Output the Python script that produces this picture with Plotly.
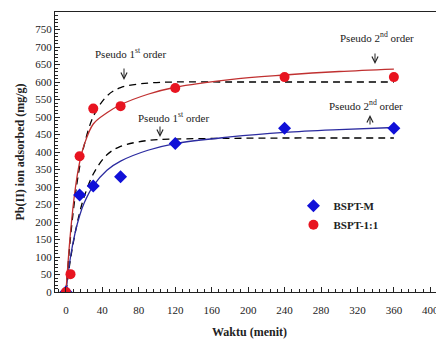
import plotly.graph_objects as go

# Experimental data
t_m = [0, 15, 30, 60, 120, 240, 360]
q_m = [0, 277, 303, 329, 424, 468, 468]
t_11 = [0, 5, 15, 30, 60, 120, 240, 360]
q_11 = [0, 51, 388, 524, 531, 583, 614, 614]

# Model curves
t_fit = [0, 5, 10, 15, 20, 30, 45, 60, 90, 120, 180, 240, 300, 360]
pfo_11 = [0, 156, 271, 357, 419, 501, 560, 584, 597, 600, 600, 600, 600, 600]
pso_11 = [0, 170, 290, 370, 420, 480, 512, 535, 565, 585, 607, 620, 630, 637]
pfo_m = [0, 94, 167, 226, 272, 337, 392, 416, 433, 437, 439, 440, 440, 440]
pso_m = [0, 100, 168, 218, 254, 303, 348, 374, 405, 424, 443, 456, 464, 470]

x_ticks = [0, 40, 80, 120, 160, 200, 240, 280, 320, 360, 400]
y_ticks = list(range(0, 801, 50))

SERIF = "Liberation Serif"
fig = go.Figure()

dash = "7px,5px"
fig.add_trace(go.Scatter(x=t_fit, y=pfo_m, mode="lines", line=dict(color="black", width=1.3, dash=dash, shape="spline"), showlegend=False))
fig.add_trace(go.Scatter(x=t_fit, y=pso_m, mode="lines", line=dict(color="#2B2BA0", width=1.3, shape="spline"), showlegend=False))
fig.add_trace(go.Scatter(x=t_fit, y=pfo_11, mode="lines", line=dict(color="black", width=1.3, dash=dash, shape="spline"), showlegend=False))
fig.add_trace(go.Scatter(x=t_fit, y=pso_11, mode="lines", line=dict(color="#C03030", width=1.3, shape="spline"), showlegend=False))

fig.add_trace(go.Scatter(x=t_m, y=q_m, mode="markers", name="BSPT-M",
                         marker=dict(symbol="diamond", size=10, color="#1010D8")))
fig.add_trace(go.Scatter(x=t_11, y=q_11, mode="markers", name="BSPT-1:1",
                         marker=dict(symbol="circle", size=10, color="#E81420")))

# page offset (body margin) compensation: figure drawn at (8, 8)
OFF = 8
L, R, T, B = 55, 444, 12, 292
afont = dict(family=SERIF, size=11, color="#222")
labels = [
    dict(x=130, y=53, text="Pseudo 1<sup>st</sup> order"),
    dict(x=377, y=37, text="Pseudo 2<sup>nd</sup> order"),
    dict(x=173, y=117, text="Pseudo 1<sup>st</sup> order"),
    dict(x=366, y=105, text="Pseudo 2<sup>nd</sup> order"),
]
for a in labels:
    fig.add_annotation(x=(a["x"] - L) / (R - L), y=(B - a["y"]) / (B - T), xref="paper", yref="paper",
                       text=a["text"], showarrow=False, font=afont, xanchor="center", yanchor="middle")
arrows = [  # tip x, tip y, tail offset
    (124, 80, -13),
    (375, 64, -12),
    (160, 137, -12),
    (370, 115, 11),
]
for x, y, ay in arrows:
    fig.add_annotation(x=(x - L) / (R - L), y=(B - y) / (B - T), xref="paper", yref="paper",
                       text="", showarrow=True, ax=0, ay=ay, arrowhead=5, arrowsize=1.2,
                       arrowwidth=1, arrowcolor="#222", standoff=0, startstandoff=0)

fig.update_layout(
    width=444 - OFF, height=345 - OFF,
    margin=dict(l=L - OFF, r=0, t=T - OFF, b=345 - B),
    paper_bgcolor="white", plot_bgcolor="white",
    font=dict(family=SERIF, size=11, color="#222"),
    showlegend=True,
    legend=dict(x=0.613, y=0.36, xanchor="left", yanchor="top", bgcolor="rgba(0,0,0,0)",
                font=dict(family=SERIF, size=11, color="#222", weight="bold"),
                itemwidth=30, tracegroupgap=0),
    xaxis=dict(range=[-12, 415], tickvals=x_ticks, ticks="inside", ticklen=5, tickcolor="#222",
               ticklabelstandoff=8,
               showline=True, linecolor="#222", linewidth=1, mirror=True, showgrid=False, zeroline=False,
               minor=dict(dtick=8, tick0=0, ticks="inside", ticklen=3, tickcolor="#222"),
               title=dict(text="<b>Waktu (menit)</b>", font=dict(family=SERIF, size=12, color="#222"), standoff=12),
               automargin=False),
    yaxis=dict(range=[0, 800], tickvals=y_ticks, ticks="inside", ticklen=5, tickcolor="#222",
               showline=True, linecolor="#222", linewidth=1, showgrid=False, zeroline=False,
               minor=dict(dtick=10, tick0=0, ticks="inside", ticklen=3, tickcolor="#222"),
               title=dict(text="<b>Pb(II) ion adsorbed (mg/g)</b>", font=dict(family=SERIF, size=12, color="#222"), standoff=8),
               automargin=False),
)

fig.write_html("out.html")
